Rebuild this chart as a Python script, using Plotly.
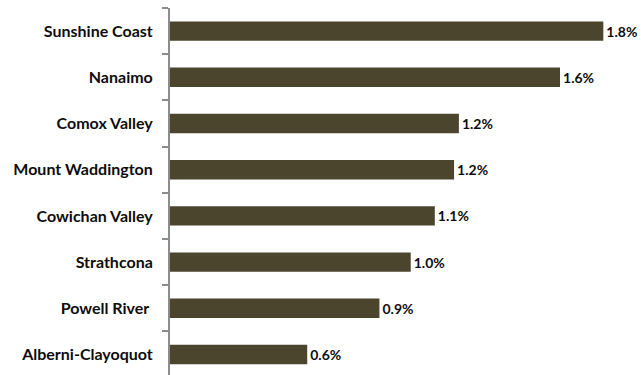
import plotly.graph_objects as go

# Regional shares, listed bottom to top
regions = [
    "Alberni-Clayoquot",
    "Powell River ",
    "Strathcona",
    "Cowichan Valley",
    "Mount Waddington",
    "Comox Valley",
    "Nanaimo",
    "Sunshine Coast",
]
shares = [0.57, 0.87, 1.00, 1.10, 1.18, 1.20, 1.62, 1.80]

W, H = 641, 375
ml, mr, mt, mb = 169.5, 10, 8, 0
px_per_pct = 241.0
x_max = (W - ml - mr) / px_per_pct
band_px = 46.2
y_top = len(regions) - 0.5
y_bottom = y_top - (H - mt - mb) / band_px

bar_color = "#4b452e"
text_color = "#0d0d0d"

fig = go.Figure(
    go.Bar(
        x=shares,
        y=regions,
        orientation="h",
        marker=dict(color=bar_color, line=dict(width=0)),
        text=[f"{v:.1f}%" for v in shares],
        textposition="outside",
        textfont=dict(family="Lato", size=14, color=text_color, weight="bold"),
        cliponaxis=False,
        hoverinfo="skip",
    )
)

fig.update_layout(
    width=W,
    height=H,
    margin=dict(l=ml, r=mr, t=mt, b=mb, pad=0),
    paper_bgcolor="white",
    plot_bgcolor="white",
    bargap=0.58,
    showlegend=False,
    uniformtext=dict(minsize=14, mode="show"),
    xaxis=dict(
        range=[0, x_max],
        visible=False,
        showgrid=False,
        zeroline=False,
    ),
    yaxis=dict(
        type="category",
        categoryorder="array",
        categoryarray=regions,
        range=[y_bottom, y_top],
        showline=True,
        linecolor="#8c8c8c",
        linewidth=2,
        ticks="outside",
        tickson="boundaries",
        ticklen=6,
        tickwidth=1.5,
        tickcolor="#8c8c8c",
        ticklabelstandoff=12,
        tickfont=dict(family="Lato", size=16, color=text_color, weight="bold"),
        showgrid=False,
        zeroline=False,
    ),
)

fig.write_html("out.html")
